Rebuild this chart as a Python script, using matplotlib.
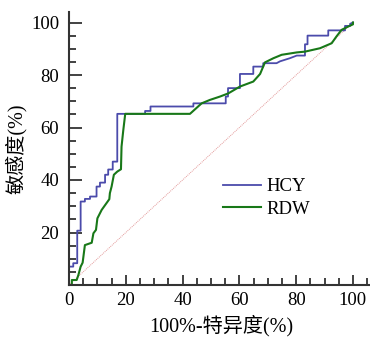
import matplotlib
matplotlib.use('Agg')
import matplotlib.pyplot as plt
from matplotlib.ticker import MultipleLocator

plt.rcParams['font.family'] = ['Liberation Serif', 'Noto Sans CJK SC']

# ROC curves (100% - specificity, sensitivity)
hcy_x = [0, 0, 1.5, 1.5, 2.9, 2.9, 4.1, 4.1, 5.6, 5.6, 7.4, 7.4, 9.7, 9.7,
         10.9, 10.9, 12.7, 12.7, 13.8, 13.8, 15.4, 15.4, 17.0, 17.0, 26.8,
         26.8, 28.7, 28.7, 43.8, 43.8, 55.2, 55.2, 56.0, 56.0, 60.2, 60.2,
         64.9, 64.9, 68.4, 68.4, 73.1, 74.3, 77.8, 80.2, 83.1, 83.1, 84.0,
         84.0, 91.3, 91.3, 97.2, 97.2, 99.0, 99.0, 100]
hcy_y = [0, 7, 7, 8.3, 8.3, 20.7, 20.7, 31.8, 31.8, 32.8, 32.8, 33.7, 33.7,
         37.5, 37.5, 39, 39, 42, 42, 44, 44, 47, 47, 65.2, 65.2, 66.3, 66.3,
         68, 68, 69.2, 69.2, 71.8, 71.8, 75, 75, 80.4, 80.4, 83.2, 83.2,
         84.5, 84.5, 85.2, 86.4, 87.4, 87.4, 91.7, 91.7, 95, 95, 97, 97,
         98.7, 98.7, 99.5, 100]

rdw_x = [0, 1.0, 1.0, 2.7, 3.3, 4.1, 4.8, 5.6, 8.0, 8.6, 9.5, 10.0, 11.5,
         14.2, 14.4, 15.0, 15.8, 17.0, 18.3, 18.5, 19.1, 19.8, 42.6, 46.7,
         49.6, 53.2, 56.1, 60.2, 64.9, 67.3, 69.0, 72.0, 74.9, 80.2, 83.1,
         88.4, 92.5, 94.2, 96.0, 98.4, 100, 100]
rdw_y = [0, 0, 1.9, 1.9, 3.8, 7, 8.5, 15.2, 16.1, 19.7, 21, 25.4, 28.6,
         32.7, 35, 37.5, 42, 43.2, 44.1, 52.7, 58.8, 65.2, 65.2, 69.2, 70.5,
         71.8, 73, 75.6, 77.5, 80.4, 84.8, 86.4, 87.7, 88.6, 88.9, 90.2,
         92.1, 94.7, 97.2, 98.5, 99.3, 100]

ref_line = [0, 100]

fig = plt.figure(figsize=(3.7, 3.37), dpi=100)
ax = fig.add_axes([69 / 370, 1 - 285 / 337, 301 / 370, 273 / 337])

ax.plot(ref_line, ref_line, color='#e39a9a', lw=0.7, ls=(0, (1, 1)))
ax.plot(hcy_x, hcy_y, color='#4b4bab', lw=1.3, label='HCY')
ax.plot(rdw_x, rdw_y, color='#187818', lw=1.5, label='RDW')

ax.set_xlim(0, 106)
ax.set_ylim(0, 104)
ax.set_xticks([0, 20, 40, 60, 80, 100])
ax.set_yticks([20, 40, 60, 80, 100])
ax.xaxis.set_minor_locator(MultipleLocator(5))
ax.yaxis.set_minor_locator(MultipleLocator(5))

for s in ['top', 'right']:
    ax.spines[s].set_visible(False)
for s in ['left', 'bottom']:
    ax.spines[s].set_linewidth(1.5)
    ax.spines[s].set_color('#333333')

ax.tick_params(axis='both', which='both', direction='in', color='#333333',
               width=1.3, labelsize=13.5)
ax.tick_params(axis='y', which='major', length=9, pad=7)
ax.tick_params(axis='y', which='minor', length=5)
ax.tick_params(axis='x', which='major', length=7, pad=5)
ax.tick_params(axis='x', which='minor', length=5)

ax.set_xlabel('100%-特异度(%)', fontsize=14.5)
ax.set_ylabel('敏感度(%)', fontsize=14.5)
ax.xaxis.set_label_coords(0.505, -0.108)
ax.yaxis.set_label_coords(-0.14, 0.5)

ax.legend(loc='upper left', bbox_to_anchor=(223 / 370, 1 - 178 / 337),
          bbox_transform=fig.transFigure, frameon=False, fontsize=13.5,
          handlelength=2.05, handletextpad=0.25, labelspacing=0.3,
          borderpad=0, borderaxespad=0)

fig.savefig('out.png', dpi=100)
